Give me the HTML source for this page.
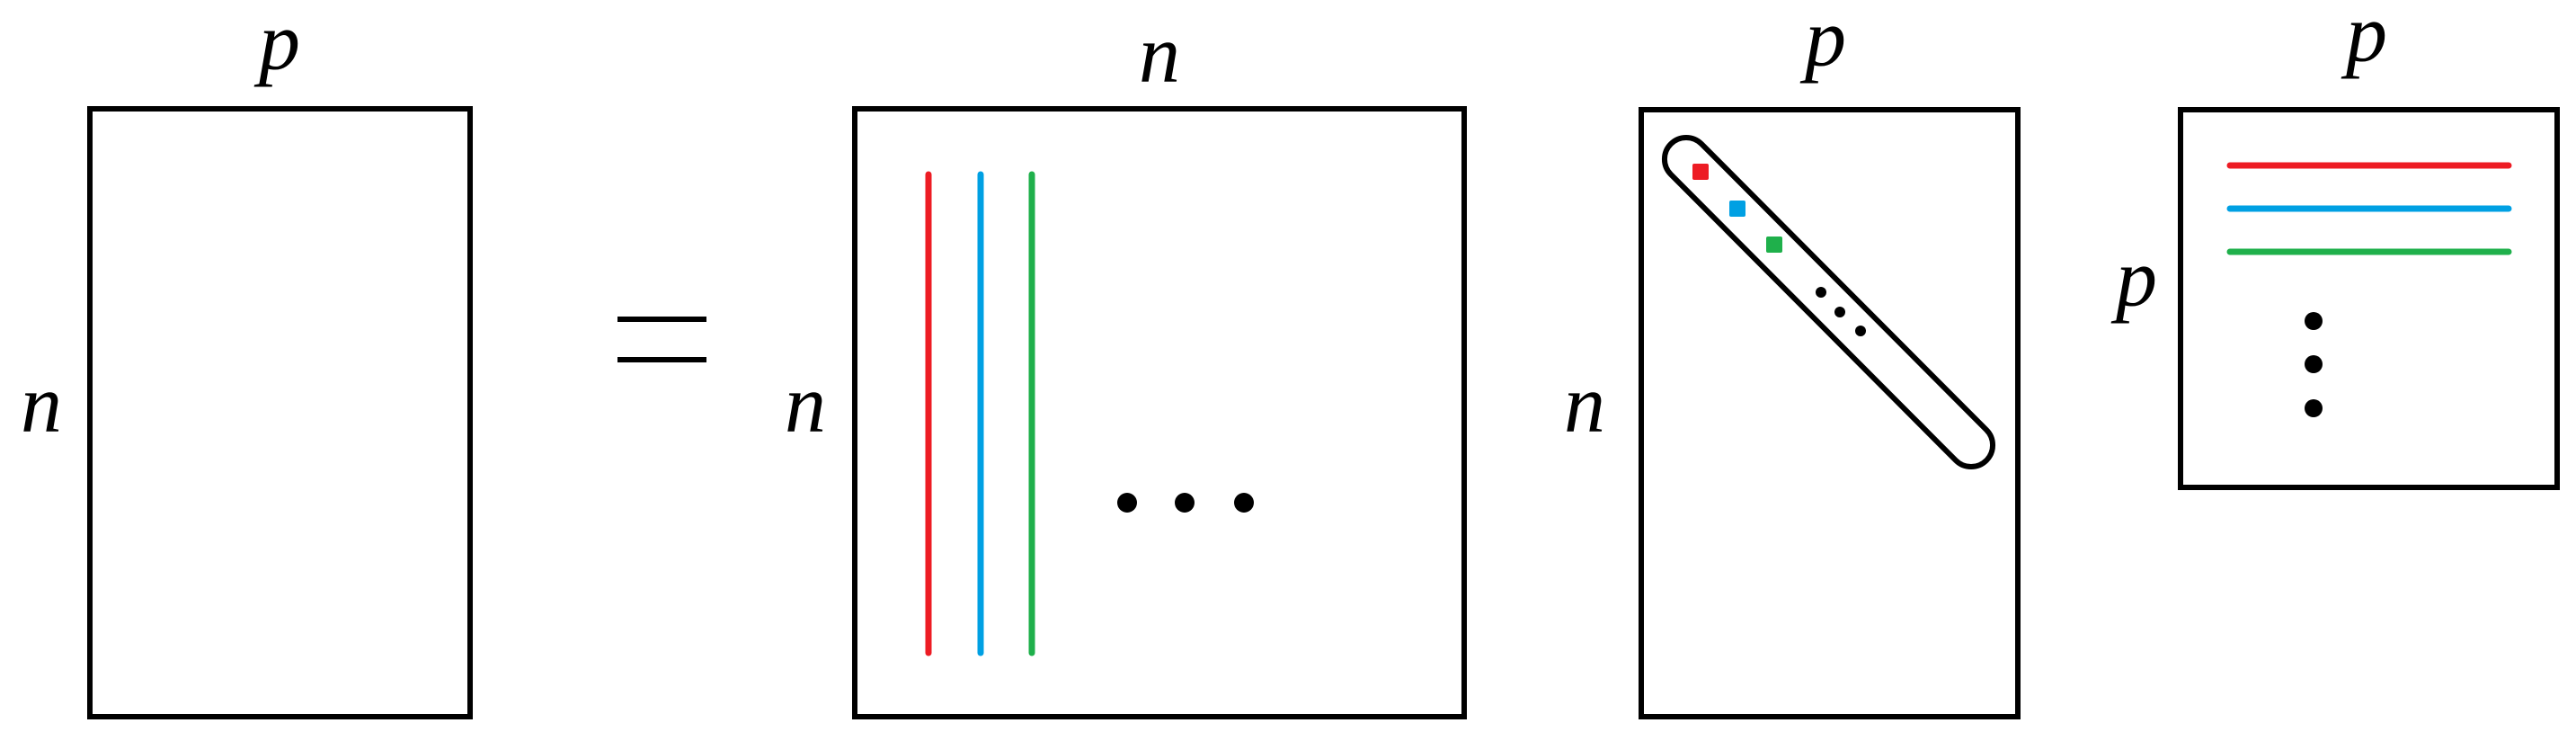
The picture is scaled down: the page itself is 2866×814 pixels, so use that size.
<!DOCTYPE html>
<html><head><meta charset="utf-8"><style>html,body{margin:0;padding:0;background:#fff}svg{display:block}</style></head>
<body>
<svg width="2866" height="814" viewBox="0 0 2866 814" xmlns="http://www.w3.org/2000/svg">
<g font-family="'Liberation Serif', serif" font-style="italic" font-size="92" text-anchor="middle" fill="#000">
<text x="311" y="77">p</text>
<text x="46" y="480">n</text>
<text x="1290" y="91">n</text>
<text x="896" y="480">n</text>
<text x="2031" y="73">p</text>
<text x="1763" y="480">n</text>
<text x="2633" y="68">p</text>
<text x="2377" y="340">p</text>
</g>
<g fill="none" stroke="#000" stroke-width="6">
<rect x="100" y="121" width="423" height="676"/>
<rect x="951" y="121" width="678" height="676"/>
<rect x="1826" y="122" width="419" height="675"/>
<rect x="2426" y="122" width="419" height="420"/>
<line x1="687" y1="355" x2="786" y2="355"/>
<line x1="687" y1="400" x2="786" y2="400"/>
<path d="M1859,160 A24,24 0 0 1 1893,160 L2210,478 A24,24 0 0 1 2176,512 L1859,194 A24,24 0 0 1 1859,160 Z"/>
</g>
<g stroke-width="7" stroke-linecap="round">
<line x1="1033" y1="194" x2="1033" y2="726" stroke="#ed1c24"/>
<line x1="1091" y1="194" x2="1091" y2="726" stroke="#00a0e3"/>
<line x1="1148" y1="194" x2="1148" y2="726" stroke="#1fb04b"/>
<line x1="2481" y1="184" x2="2791" y2="184" stroke="#ed1c24"/>
<line x1="2481" y1="232" x2="2791" y2="232" stroke="#00a0e3"/>
<line x1="2481" y1="280" x2="2791" y2="280" stroke="#1fb04b"/>
</g>
<g fill="#000">
<circle cx="1254" cy="559" r="11"/><circle cx="1318" cy="559" r="11"/><circle cx="1384" cy="559" r="11"/>
<circle cx="2026" cy="325" r="6"/><circle cx="2047" cy="347" r="6"/><circle cx="2070" cy="368" r="6"/>
<circle cx="2574" cy="357" r="10"/><circle cx="2574" cy="405" r="10"/><circle cx="2574" cy="454" r="10"/>
</g>
<rect x="1883" y="182" width="18" height="18" rx="2" fill="#ed1c24"/>
<rect x="1924" y="223" width="18" height="18" rx="2" fill="#00a0e3"/>
<rect x="1965" y="263" width="18" height="18" rx="2" fill="#1fb04b"/>
</svg>
</body></html>
